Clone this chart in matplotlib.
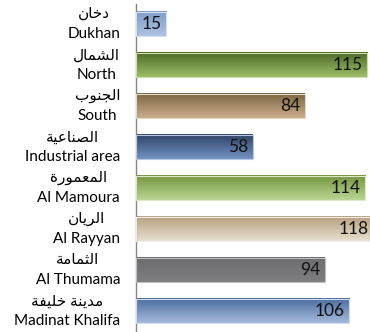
import numpy as np
import matplotlib
matplotlib.use('agg')
import matplotlib.pyplot as plt
import matplotlib.colors as mcolors
import matplotlib.transforms as mtransforms

# districts, top to bottom
names_ar = ['دخان', 'الشمال', 'الجنوب', 'الصناعية',
            'المعمورة', 'الريان', 'الثمامة', 'مدينة خليفة']
names_en = ['Dukhan', 'North', 'South', 'Industrial area',
            'Al Mamoura', 'Al Rayyan', 'Al Thumama', 'Madinat Khalifa']
values = [15, 115, 84, 58, 114, 118, 94, 106]

# (top, bottom) shade of each bar
shades = [('#7f9cc9', '#adc2e2'),
          ('#4d6a29', '#9dbd64'),
          ('#7c6342', '#c9af8b'),
          ('#2e4364', '#7392c2'),
          ('#75963e', '#bad494'),
          ('#b6a07e', '#e8dfd0'),
          ('#6c6c6f', '#7e7e81'),
          ('#4b6c9d', '#a4badd')]

# arabic letter -> (isolated, final, initial, medial); two-form letters do not join forward
FORMS = {
    'ا': ('\ufe8d', '\ufe8e'), 'د': ('\ufea9', '\ufeaa'), 'ر': ('\ufead', '\ufeae'),
    'و': ('\ufeed', '\ufeee'), 'ة': ('\ufe93', '\ufe94'),
    'ب': ('\ufe8f', '\ufe90', '\ufe91', '\ufe92'), 'ث': ('\ufe99', '\ufe9a', '\ufe9b', '\ufe9c'),
    'ج': ('\ufe9d', '\ufe9e', '\ufe9f', '\ufea0'), 'خ': ('\ufea5', '\ufea6', '\ufea7', '\ufea8'),
    'ش': ('\ufeb5', '\ufeb6', '\ufeb7', '\ufeb8'), 'ص': ('\ufeb9', '\ufeba', '\ufebb', '\ufebc'),
    'ع': ('\ufec9', '\ufeca', '\ufecb', '\ufecc'), 'ف': ('\ufed1', '\ufed2', '\ufed3', '\ufed4'),
    'ل': ('\ufedd', '\ufede', '\ufedf', '\ufee0'), 'م': ('\ufee1', '\ufee2', '\ufee3', '\ufee4'),
    'ن': ('\ufee5', '\ufee6', '\ufee7', '\ufee8'), 'ي': ('\ufef1', '\ufef2', '\ufef3', '\ufef4'),
}


def shape_arabic(word):
    # pick joined glyph forms, then reverse into visual order
    out = []
    for i, ch in enumerate(word):
        if ch not in FORMS:
            out.append(ch)
            continue
        prev = word[i - 1] if i > 0 else ''
        nxt = word[i + 1] if i + 1 < len(word) else ''
        j_prev = prev in FORMS and len(FORMS[prev]) == 4
        j_next = nxt in FORMS and len(FORMS[ch]) == 4
        f = FORMS[ch]
        if j_prev and j_next:
            out.append(f[3])
        elif j_next:
            out.append(f[2])
        elif j_prev:
            out.append(f[1])
        else:
            out.append(f[0])
    return ''.join(out)[::-1]


fam = ['Lato', 'DejaVu Sans']
fig = plt.figure(figsize=(3.7, 3.32), dpi=100)
ax = fig.add_axes([136 / 370, 0.5 / 332, 234 / 370, 328 / 332])

y = np.arange(len(values))
h = 0.6
bars = ax.barh(y, values, height=h, color='none', edgecolor='none')

for b, (top, bot), v in zip(bars, shades, values):
    c0 = np.array(mcolors.to_rgb(top))
    c1 = np.array(mcolors.to_rgb(bot))
    t = np.linspace(0, 1, 64)[:, None, None]
    grad = c0 * (1 - t) + c1 * t
    x0, yc = b.get_x(), b.get_y() + h / 2
    ax.imshow(grad, extent=(x0, x0 + v, yc + h / 2, yc - h / 2),
              aspect='auto', origin='upper', zorder=2, interpolation='bilinear')
    ax.add_patch(plt.Rectangle((x0, yc - h / 2), v, h, fill=False,
                               edgecolor=mcolors.to_hex(0.5 * c1 + 0.5), lw=0.8, zorder=3))
    ax.text(v - 2.4, yc, str(v), ha='right', va='center', fontsize=12.5,
            family=fam, color='#111111', zorder=4, clip_on=False)

ax.set_xlim(0, 116.4)
ax.set_ylim(len(values) - 0.5, -0.5)
ax.set_yticks(y)
labels = ax.set_yticklabels([shape_arabic(a) + '\n' + e for a, e in zip(names_ar, names_en)],
                            family=fam, fontsize=11, multialignment='center',
                            linespacing=1.5, va='center')
# nudge the two-line labels down a little
shift = mtransforms.ScaledTranslation(0, -2 / 72, fig.dpi_scale_trans)
for lab in labels:
    lab.set_transform(lab.get_transform() + shift)
ax.tick_params(axis='y', length=0, pad=11.5)
ax.set_xticks([])
for s in ['top', 'right', 'bottom']:
    ax.spines[s].set_visible(False)
ax.spines['left'].set_color('#868686')
ax.spines['left'].set_linewidth(1.0)

fig.savefig('out.png', dpi=100)
